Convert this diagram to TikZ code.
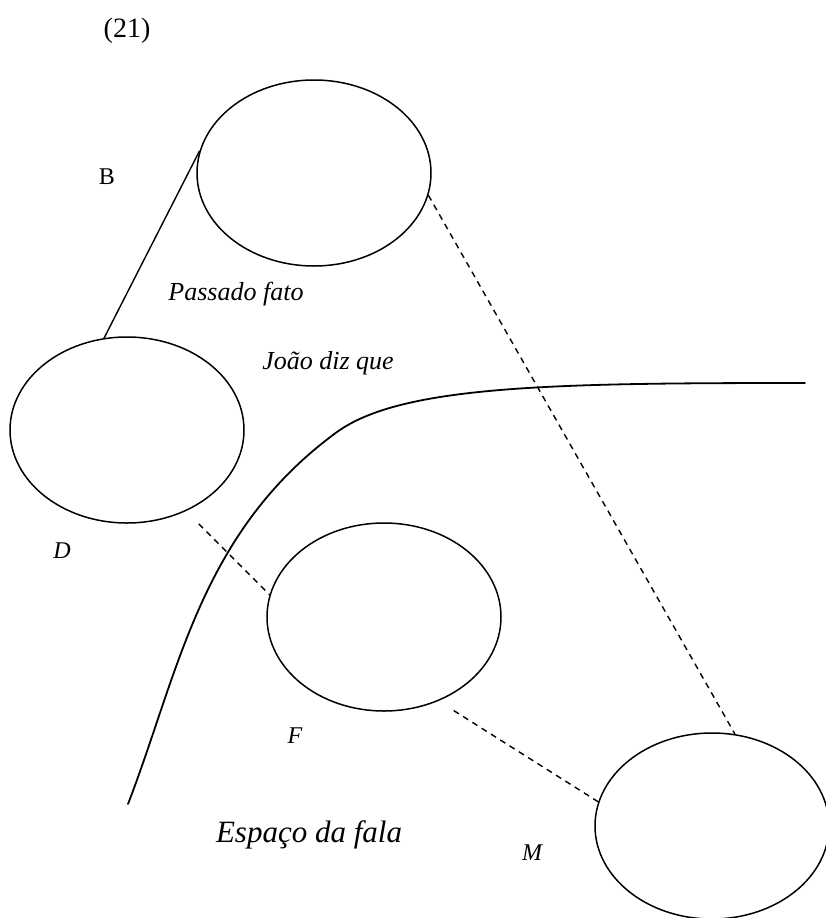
\documentclass[tikz,border=0pt]{standalone}
\usepackage{fontspec}
\setmainfont{Liberation Serif}
\usetikzlibrary{shapes.geometric}
\begin{document}
\begin{tikzpicture}[x=1pt,y=-1pt,
  bubble/.style={draw, ellipse, line width=1.5pt, minimum width=234pt, minimum height=186pt, inner sep=0pt},
  lbl/.style={anchor=base, inner sep=0pt, font=\fontsize{24}{28}\selectfont},
  ilbl/.style={anchor=base, inner sep=0pt, font=\fontsize{24}{28}\selectfont\itshape},
  bigilbl/.style={anchor=base, inner sep=0pt, font=\fontsize{26}{30}\selectfont\itshape},
  dashline/.style={line width=1.4pt, dash pattern=on 6pt off 5pt},
  solidline/.style={line width=1.4pt},
  boundary/.style={line width=1.8pt, line cap=round}
]
\useasboundingbox (0,0) rectangle (825,918);

% ellipses
\node[bubble] (B) at (314,173) {};
\node[bubble] (D) at (127,430) {};
\node[bubble, minimum height=188pt] (F) at (384,617) {};
\node[bubble] (M) at (712,826) {};

% labels
\node[lbl, font=\fontsize{28}{32}\selectfont] (num) at (127,37) {(21)};
\node[lbl] (lb) at (107,184) {B};
\node[bigilbl] (lpf) at (236,300) {Passado fato};
\node[bigilbl] (ljd) at (328,369) {João diz que};
\node[ilbl] (ld) at (62,558) {D};
\node[ilbl] (lf) at (295,743) {F};
\node[ilbl] (lm) at (532,860) {M};
\node[ilbl, font=\fontsize{31}{35}\selectfont\itshape] (lef) at (309,842) {Espaço da fala};

% connectors
\draw[solidline] (B.169) -- (D.104.6);
\draw[dashline] (B.-11.7) -- (M.76);
\draw[dashline, shorten <=18pt] (D.-54.9) -- (F.169);
\draw[dashline, shorten <=18pt] (F.-57) -- (M.168.7);

% boundary of speech space
\draw[boundary] (128,804) .. controls (179,672) and (200,532) .. (337,432)
  .. controls (402,385) and (555,383) .. (805,383);
\end{tikzpicture}
\end{document}
